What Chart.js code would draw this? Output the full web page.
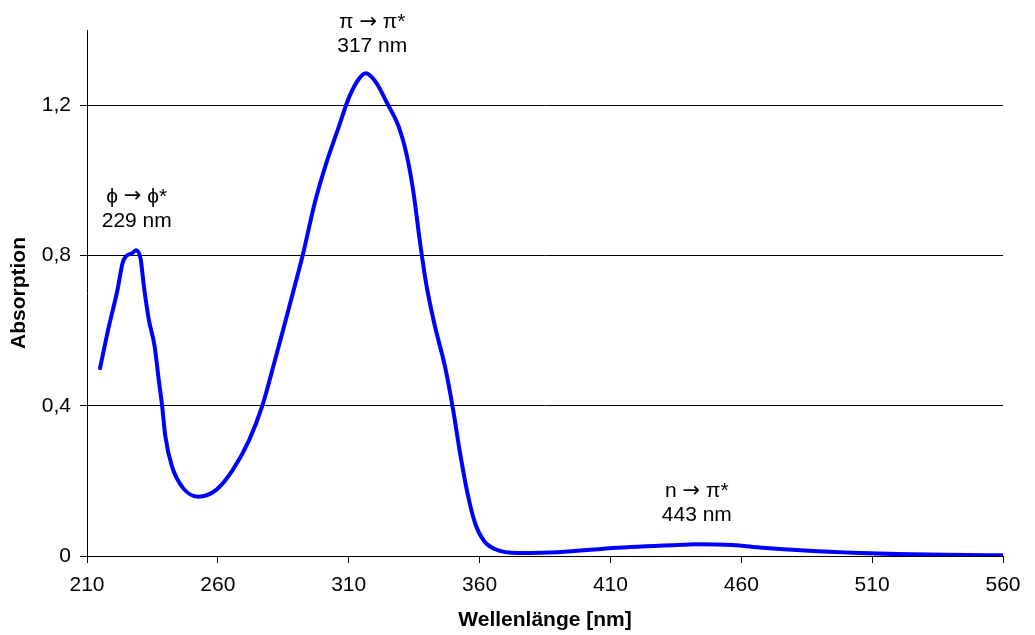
<!DOCTYPE html>
<html>
<head>
<meta charset="utf-8">
<script src="https://cdn.jsdelivr.net/npm/chart.js@4.4.0/dist/chart.umd.min.js"></script>
<style>
body { margin: 0; background: #fff; }
#wrap { width: 1035px; height: 635px; }
</style>
</head>
<body>
<div id="wrap"><canvas id="chart"></canvas></div>
<script>
// spectrum
var wavelength = [215, 218, 221.7, 223.6, 224.8, 227.3, 228.8, 230.5, 231.7, 233.6, 235.8, 237.4, 238.7, 239.9,
  242.4, 246.8, 252.5, 259.4, 265.7, 272, 277, 282.5, 284.6, 287.6, 292.6, 297, 301.4, 305.8, 310.2, 314,
  316.5, 320.3, 324.7, 329.1, 332.3, 334.8, 337.3, 339.8, 343, 346.8, 349.9, 352.4, 355.6, 358.4, 361.7,
  366, 375, 390, 412.5, 437.7, 443, 456.6, 468, 493.5, 520, 560];
var absorption = [0.50, 0.60, 0.71, 0.78, 0.797, 0.806, 0.814, 0.79, 0.72, 0.63, 0.56, 0.47, 0.40, 0.32,
  0.24, 0.18, 0.158, 0.176, 0.229, 0.309, 0.40, 0.539, 0.593, 0.672, 0.806, 0.939, 1.045, 1.134, 1.222, 1.271,
  1.285, 1.262, 1.205, 1.143, 1.063, 0.965, 0.832, 0.717, 0.610, 0.504, 0.389, 0.28, 0.16, 0.085, 0.04,
  0.018, 0.008, 0.010, 0.022, 0.030, 0.031, 0.029, 0.022, 0.011, 0.005, 0.002];

var xTicks = [210, 260, 310, 360, 410, 460, 510, 560];
var yTicks = [0, 0.4, 0.8, 1.2];

// transition names: [from, to]
var peakFrom = ["\u03D5", "\u03C0", "n"];
var peakTo = ["\u03D5*", "\u03C0*", "\u03C0*"];
var peakLabels = ["229 nm", "317 nm", "443 nm"];

var FONT = "'Liberation Sans', Arial, sans-serif";

var points = wavelength.map(function (w, i) { return { x: w, y: absorption[i] }; });

// where the peak labels sit (nm, absorbance of the lower line)
var labelAnchors = [[229, 0.892], [319, 1.357], [443, 0.109]];

var peakLabelPlugin = {
  id: 'peakLabels',
  afterDatasetsDraw: function (chart) {
    var ctx = chart.ctx;
    var xs = chart.scales.x, ys = chart.scales.y;
    var textFont = "21px " + FONT;
    var arrowFont = "21px 'DejaVu Sans'";
    ctx.save();
    ctx.fillStyle = "#000";
    ctx.textBaseline = "middle";
    labelAnchors.forEach(function (a, i) {
      var px = xs.getPixelForValue(a[0]);
      var py = ys.getPixelForValue(a[1]);

      // first line: from → to, arrow drawn in a font with a longer arrow
      var left = peakFrom[i] + " ", right = " " + peakTo[i];
      ctx.font = textFont;
      var wl = ctx.measureText(left).width, wr = ctx.measureText(right).width;
      ctx.font = arrowFont;
      var wa = ctx.measureText("\u2192").width;
      var x0 = px - (wl + wa + wr) / 2;
      ctx.textAlign = "left";
      ctx.font = textFont;
      ctx.fillText(left, x0, py - 24);
      ctx.font = arrowFont;
      ctx.fillText("\u2192", x0 + wl, py - 24);
      ctx.font = textFont;
      ctx.fillText(right, x0 + wl + wa, py - 24);

      ctx.textAlign = "center";
      ctx.fillText(peakLabels[i], px, py);
    });
    ctx.restore();
  }
};

new Chart(document.getElementById("chart"), {
  type: "scatter",
  data: {
    datasets: [{
      data: points,
      showLine: true,
      borderColor: "#0000ff",
      borderWidth: 4,
      borderCapStyle: "round",
      borderJoinStyle: "round",
      pointRadius: 0,
      cubicInterpolationMode: "monotone",
      fill: false
    }]
  },
  options: {
    responsive: true,
    maintainAspectRatio: false,
    animation: false,
    layout: { padding: { top: 30, right: 32, left: 0, bottom: 0 } },
    plugins: {
      legend: { display: false },
      tooltip: { enabled: false }
    },
    scales: {
      x: {
        type: "linear",
        min: 210,
        max: 560,
        afterBuildTicks: function (axis) {
          axis.ticks = xTicks.map(function (v) { return { value: v }; });
        },
        afterFit: function (s) { s.height = 79; },
        ticks: {
          font: { family: FONT, size: 21 },
          color: "#000",
          padding: 10,
          maxRotation: 0
        },
        grid: { drawOnChartArea: false, drawTicks: true, tickLength: 7, color: "#000" },
        border: { color: "#000", width: 1 },
        title: {
          display: true,
          text: "Wellenlänge [nm]",
          font: { family: FONT, size: 21, weight: "bold" },
          color: "#000",
          padding: { top: 0, bottom: 2 }
        }
      },
      y: {
        min: 0,
        max: 1.4,
        afterBuildTicks: function (axis) {
          axis.ticks = yTicks.map(function (v) { return { value: v }; });
        },
        afterFit: function (s) { s.width = 87; },
        ticks: {
          font: { family: FONT, size: 21 },
          color: "#000",
          padding: 9,
          callback: function (v) { return String(v).replace(".", ","); }
        },
        grid: { color: "#000", lineWidth: 1, drawTicks: true, tickLength: 7 },
        border: { color: "#000", width: 1 },
        title: {
          display: true,
          text: "Absorption",
          font: { family: FONT, size: 21, weight: "bold" },
          color: "#000",
          padding: { top: 7, bottom: 0 }
        }
      }
    }
  },
  plugins: [peakLabelPlugin]
});
</script>
</body>
</html>
